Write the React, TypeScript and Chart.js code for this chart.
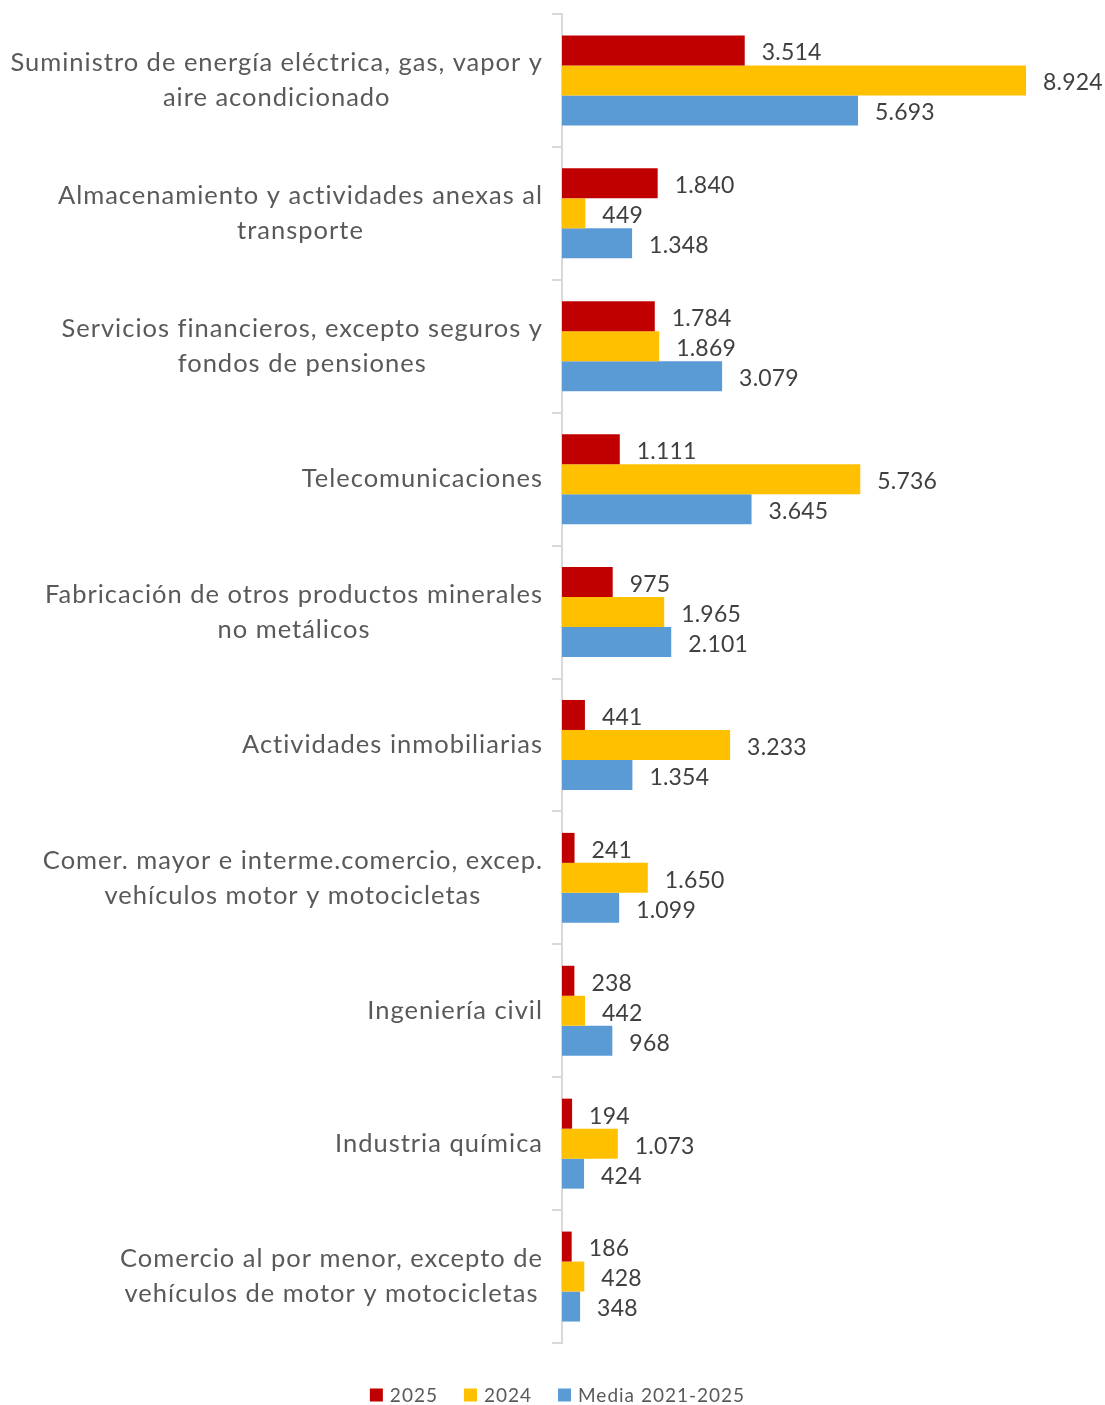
import React, { useEffect, useRef } from 'react';
import { Chart, registerables } from 'chart.js';
Chart.register(...registerables);

const categories: string[][] = [
  ['Suministro de energía eléctrica, gas, vapor y', 'aire acondicionado'],
  ['Almacenamiento y actividades anexas al', 'transporte'],
  ['Servicios financieros, excepto seguros y', 'fondos de pensiones'],
  ['Telecomunicaciones'],
  ['Fabricación de otros productos minerales', 'no metálicos'],
  ['Actividades inmobiliarias'],
  ['Comer. mayor e interme.comercio, excep.', 'vehículos motor y motocicletas'],
  ['Ingeniería civil'],
  ['Industria química'],
  ['Comercio al por menor, excepto de', 'vehículos de motor y motocicletas'],
];
const series2025 = [3514, 1840, 1784, 1111, 975, 441, 241, 238, 194, 186];
const series2024 = [8924, 449, 1869, 5736, 1965, 3233, 1650, 442, 1073, 428];
const seriesMedia = [5693, 1348, 3079, 3645, 2101, 1354, 1099, 968, 424, 348];
const seriesNames = ['2025', '2024', 'Media 2021-2025'];
const seriesColors = ['#C00000', '#FFC000', '#5B9BD5'];
const xMax = 10000;

const fmt = (v: number) => String(v).replace(/\B(?=(\d{3})+(?!\d))/g, '.');

const CAT_FONT = '25.5px Lato';
const CAT_SPACING = 1;
const VAL_FONT = '23px Lato';
const LEG_FONT = '19px Lato';

const categoryLabelPlugin = {
  id: 'catLabels',
  afterDraw(chart: any) {
    const ctx = chart.ctx;
    const y = chart.scales.y;
    const right = 542;
    ctx.save();
    ctx.font = CAT_FONT;
    ctx.letterSpacing = CAT_SPACING + 'px';
    ctx.fillStyle = '#595959';
    ctx.textAlign = 'left';
    ctx.textBaseline = 'middle';
    categories.forEach((lines, i) => {
      const cy = y.getPixelForValue(i);
      const ws = lines.map((l) => ctx.measureText(l).width - CAT_SPACING);
      const w = Math.max(...ws);
      const cx = right - w / 2;
      lines.forEach((l, j) => {
        ctx.fillText(l, cx - ws[j] / 2, cy + (j - (lines.length - 1) / 2) * 35);
      });
    });
    ctx.restore();
  },
};

const valueLabelPlugin = {
  id: 'valLabels',
  afterDatasetsDraw(chart: any) {
    const ctx = chart.ctx;
    ctx.save();
    ctx.font = VAL_FONT;
    ctx.letterSpacing = '0.2px';
    ctx.fillStyle = '#404040';
    ctx.textAlign = 'left';
    ctx.textBaseline = 'middle';
    chart.data.datasets.forEach((ds: any, d: number) => {
      const meta = chart.getDatasetMeta(d);
      meta.data.forEach((bar: any, i: number) => {
        ctx.fillText(fmt(ds.data[i]), bar.x + 17, bar.y + 2.5);
      });
    });
    ctx.restore();
  },
};

const legendPlugin = {
  id: 'customLegend',
  afterDraw(chart: any) {
    const ctx = chart.ctx;
    ctx.save();
    ctx.font = LEG_FONT;
    ctx.letterSpacing = '1px';
    const box = 13, gapText = 7, gapItem = 26;
    const widths = seriesNames.map((n) => ctx.measureText(n).width);
    const total = widths.reduce((a, w) => a + box + gapText + w, 0) + gapItem * (seriesNames.length - 1);
    let x = 557.5 - total / 2;
    const cy = 1395;
    ctx.textBaseline = 'middle';
    ctx.textAlign = 'left';
    seriesNames.forEach((n, i) => {
      ctx.fillStyle = seriesColors[i];
      ctx.fillRect(x, cy - box / 2, box, box);
      ctx.fillStyle = '#595959';
      ctx.fillText(n, x + box + gapText, cy + 1);
      x += box + gapText + widths[i] + gapItem;
    });
    ctx.restore();
  },
};

export default function App() {
  const ref = useRef<HTMLCanvasElement | null>(null);
  useEffect(() => {
    document.body.style.margin = '0';
    if (!ref.current) return;
    const chart = new Chart(ref.current, {
      type: 'bar',
      data: {
        labels: categories.map((c) => c.join(' ')),
        datasets: [series2025, series2024, seriesMedia].map((data, i) => ({
          label: seriesNames[i],
          data,
          backgroundColor: seriesColors[i],
          borderWidth: 0,
          categoryPercentage: 0.677,
          barPercentage: 1,
        })),
      },
      options: {
        indexAxis: 'y',
        responsive: false,
        animation: false,
        layout: { padding: { top: 14, right: 23, bottom: 62, left: 0 } },
        plugins: { legend: { display: false }, tooltip: { enabled: false } },
        scales: {
          x: { display: false, min: 0, max: xMax },
          y: {
            ticks: { display: false },
            grid: { offset: true, drawOnChartArea: false, drawTicks: true, tickLength: 10, color: '#d9d9d9', lineWidth: 2 },
            border: { display: true, color: '#d9d9d9', width: 2 },
            afterFit: (scale: any) => { scale.width = 562; },
          },
        },
      },
      plugins: [categoryLabelPlugin, valueLabelPlugin, legendPlugin],
    });
    return () => chart.destroy();
  }, []);
  return (
    <div style={{ width: 1105, height: 1405 }}>
      <canvas ref={ref} width={1105} height={1405} style={{ display: 'block' }} />
    </div>
  );
}
